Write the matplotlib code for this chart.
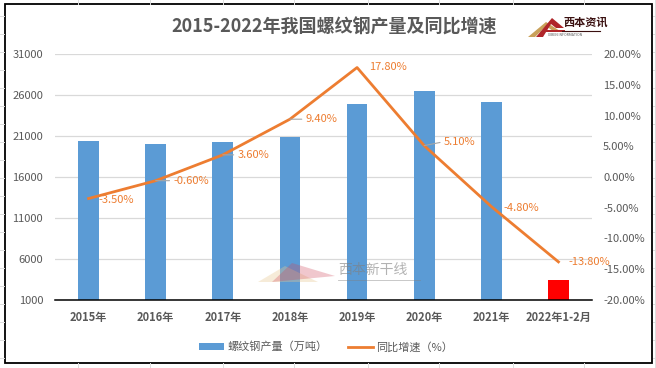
import matplotlib
matplotlib.use('Agg')
import matplotlib.pyplot as plt
from matplotlib.patches import Rectangle, Polygon

plt.rcParams['font.family'] = ['Noto Sans CJK SC', 'DejaVu Sans']

# 数据
years = ['2015年', '2016年', '2017年', '2018年', '2019年', '2020年', '2021年', '2022年1-2月']
output = [20400, 20050, 20250, 20850, 24900, 26450, 25200, 3400]
growth = [-3.5, -0.6, 3.6, 9.4, 17.8, 5.1, -4.8, -13.8]
growth_labels = ['-3.50%', '-0.60%', '3.60%', '9.40%', '17.80%', '5.10%', '-4.80%', '-13.80%']
# 标签偏移 (像素) 和是否带引导线
label_offsets = [(10, 1), (18, 0), (15, 0), (16, 0), (12, -1), (20, -4), (12, 1), (10, 0)]
leader = [False, True, True, True, False, True, False, False]

BLUE = '#5B9BD5'
ORANGE = '#ED7D31'
GRAY = '#595959'

W, H = 656, 368
fig = plt.figure(figsize=(W / 100, H / 100), dpi=100)

# 背景: Excel 单元格线 + 图表边框
bg = fig.add_axes([0, 0, 1, 1], zorder=0)
bg.set_xlim(0, W)
bg.set_ylim(H, 0)
bg.axis('off')
for yy in range(16, H, 18):
    bg.plot([0, 4], [yy, yy], color='#DDDDDD', lw=0.7)
    bg.plot([653, W], [yy, yy], color='#DDDDDD', lw=0.7)
for xx in [78, 150, 223, 294, 368, 439, 513, 584]:
    bg.plot([xx, xx], [0, 4], color='#DDDDDD', lw=0.7)
    bg.plot([xx, xx], [363, H], color='#DDDDDD', lw=0.7)
bg.plot([654.5, 654.5], [0, H], color='#DDDDDD', lw=0.7)
bg.add_patch(Rectangle((5, 4), 647, 359, facecolor='white', edgecolor='black', lw=1.3))

# 标题
bg.text(334, 27, '2015-2022年我国螺纹钢产量及同比增速', ha='center', va='center',
        fontsize=13, fontweight='bold', color=GRAY)

# 右上角 logo
bg.add_patch(Polygon([(528, 37), (546, 22), (560, 31), (553, 31), (546, 26), (535, 37)],
                     closed=True, facecolor='#C9A15A', edgecolor='none'))
bg.add_patch(Polygon([(536, 37), (552, 18), (564, 28), (556, 28), (551, 24), (543, 37)],
                     closed=True, facecolor='#B0262A', edgecolor='none'))
bg.add_patch(Polygon([(540, 32), (565, 32), (565, 30), (546, 30)],
                     closed=True, facecolor='#B0262A', edgecolor='none'))
bg.text(563, 22, '西本资讯', ha='left', va='center', fontsize=8, fontweight='bold',
        color='#3A1010')
bg.plot([562, 600], [30.5, 30.5], color='#3A1010', lw=0.8)
bg.text(548, 35, 'XIBEN INFORMATION', fontsize=2.5, color='#555555', va='center')

# 主图
ax = fig.add_axes([55 / W, 1 - 300 / H, (592 - 55) / W, (300 - 54) / H], zorder=2)
ax.set_facecolor('none')
x = list(range(len(years)))
colors = [BLUE] * (len(years) - 1) + ['#FF0000']
bars = ax.bar(x, output, width=0.31, color=colors, zorder=2)
ax.set_ylim(1000, 31000)
ax.set_yticks(range(1000, 31001, 5000))
ax.set_xlim(-0.5, len(years) - 0.5)
ax.set_xticks(x)
ax.set_xticklabels(years, fontsize=8, fontweight='bold', color=GRAY)
ax.grid(axis='y', color='#D9D9D9', lw=0.9, zorder=0)
ax.set_axisbelow(True)
for s in ['left', 'right', 'top']:
    ax.spines[s].set_visible(False)
ax.spines['bottom'].set_color('black')
ax.spines['bottom'].set_linewidth(1.1)
ax.tick_params(axis='y', length=0, pad=8.5, labelsize=8, labelcolor=GRAY)
ax.tick_params(axis='x', length=0, pad=8)

ax2 = ax.twinx()
line, = ax2.plot(x, growth, color=ORANGE, lw=2, zorder=3)
ax2.set_ylim(-20, 20)
ax2.set_yticks(range(-20, 21, 5))
ax2.set_yticklabels(['%.2f%%' % v for v in range(-20, 21, 5)])
for s in ['left', 'right', 'top', 'bottom']:
    ax2.spines[s].set_visible(False)
ax2.tick_params(axis='y', length=0, pad=8, labelsize=8, labelcolor=GRAY)

for i, (v, txt) in enumerate(zip(growth, growth_labels)):
    dx, dy = label_offsets[i]
    kw = {}
    if leader[i]:
        kw['arrowprops'] = dict(arrowstyle='-', color='#A6A6A6', lw=0.8,
                                relpos=(0, 0.5), shrinkA=1, shrinkB=0)
    ax2.annotate(txt, (i, v), xytext=(dx * 0.72, -dy * 0.72), textcoords='offset points',
                 ha='left', va='center', fontsize=8, color=ORANGE, **kw)

# 水印
ov = fig.add_axes([0, 0, 1, 1], zorder=5)
ov.set_xlim(0, W)
ov.set_ylim(H, 0)
ov.axis('off')
ov.add_patch(Polygon([(258, 282), (285, 266), (318, 282)], closed=True,
                     facecolor='#E8C890', edgecolor='none', alpha=0.35))
ov.add_patch(Polygon([(272, 282), (292, 263), (335, 276)], closed=True,
                     facecolor='#D0485A', edgecolor='none', alpha=0.3))
ov.text(338, 270, '西本新干线', ha='left', va='center', fontsize=10,
        color='#808080', alpha=0.6)
ov.plot([338, 420], [280, 280], color='#808080', lw=0.6, alpha=0.5)

# 图例
fig.legend([bars[0], line], ['螺纹钢产量（万吨）', '同比增速（%）'], loc='center',
           bbox_to_anchor=(326 / W, 1 - 347 / H), ncol=2, frameon=False, fontsize=8,
           labelcolor=GRAY, handlelength=2.3, handleheight=0.6, columnspacing=1.8,
           handletextpad=0.3)

fig.savefig('out.png', dpi=100)
